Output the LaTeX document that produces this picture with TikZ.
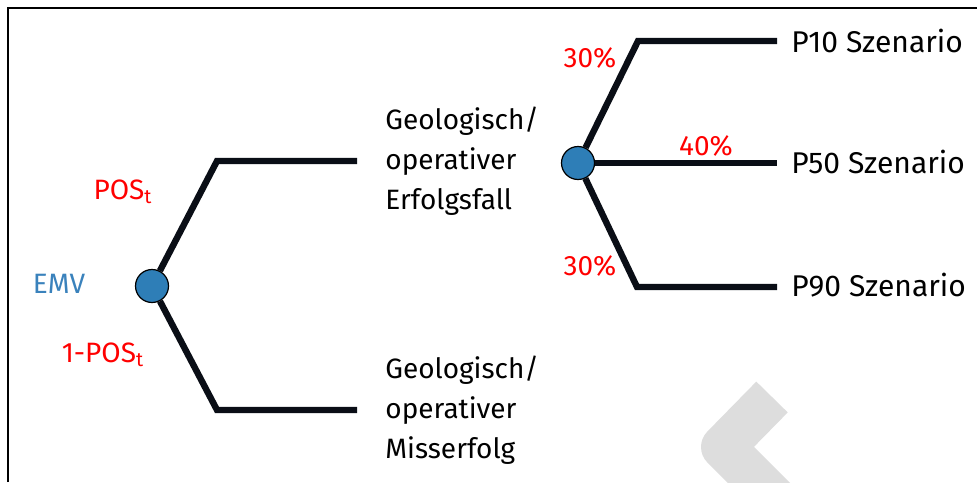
\documentclass[tikz,border=0pt]{standalone}
\usepackage{fontspec}
\setmainfont{Fira Sans}
\definecolor{emvblue}{RGB}{58,130,188}
\definecolor{nodeblue}{RGB}{46,126,183}
\definecolor{wmgray}{RGB}{221,221,221}
\definecolor{probred}{RGB}{255,0,0}
\definecolor{linecol}{RGB}{10,14,22}
\tikzset{
  branch/.style={line width=3.2pt, line cap=butt, line join=miter, linecol},
  chance/.style={circle, draw=black, line width=0.6pt, fill=nodeblue, minimum size=16.5pt, inner sep=0pt},
  txt/.style={font=\fontsize{14}{20}\selectfont, inner sep=0pt},
  prob/.style={txt, text=probred},
  outcome/.style={txt, anchor=west, align=left},
  scen/.style={anchor=west, font=\fontsize{15}{18}\selectfont, inner sep=0pt}
}
\begin{document}
\begin{tikzpicture}[x=0.5pt,y=-0.5pt]
\useasboundingbox (0,0) rectangle (977,482);
% watermark chevron
\begin{scope}
\clip (0,0) rectangle (977,482);
\draw[wmgray, line width=22pt, line join=round] (772,397) -- (723,447) -- (810,534);
\end{scope}
% frame
\draw[line width=1pt] (8,482) -- (8,8) -- (977,8);
% nodes
\node[chance] (c1) at (152,286) {};
\node[chance] (c2) at (578,163) {};
\coordinate (k1) at (217,161);
\coordinate (e1) at (357,161);
\coordinate (k2) at (217,410);
\coordinate (e2) at (357,410);
\coordinate (k3) at (638,41);
\coordinate (e3) at (777,41);
\coordinate (e4) at (777,163);
\coordinate (k5) at (637,287);
\coordinate (e5) at (777,287);
% branches
\draw[branch] (c1) -- (k1) -- (e1);
\draw[branch] (c1) -- (k2) -- (e2);
\draw[branch] (c2) -- (k3) -- (e3);
\draw[branch] (c2) -- (e4);
\draw[branch] (c2) -- (k5) -- (e5);
% labels
\node[txt, text=emvblue] (emv) at (59,284) {EMV};
\node[prob] (pos) at (123,192) {POS\textsubscript{t}};
\node[prob] (npos) at (103,355) {1-POS\textsubscript{t}};
\node[prob] (p30a) at (590,58) {30\%};
\node[prob] (p40) at (706,146) {40\%};
\node[prob] (p30b) at (590,266) {30\%};
\node[outcome] (succ) at (385,161) {Geologisch/\\operativer\\Erfolgsfall};
\node[outcome] (fail) at (385,410) {Geologisch/\\operativer\\Misserfolg};
\node[scen] (s10) at (791,41) {P10 Szenario};
\node[scen] (s50) at (791,162) {P50 Szenario};
\node[scen] (s90) at (791,285) {P90 Szenario};
\end{tikzpicture}
\end{document}
